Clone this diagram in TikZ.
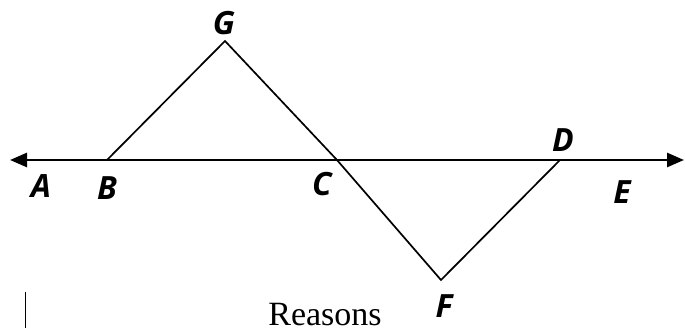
\documentclass[tikz,border=0pt]{standalone}
\usepackage{fontspec}
\setmainfont{Liberation Serif}
\setsansfont{Open Sans}
\usetikzlibrary{arrows.meta}

\begin{document}
\begin{tikzpicture}[
  x=1pt, y=-1pt,
  ptlabel/.style={font=\sffamily\bfseries\itshape\fontsize{32}{32}\selectfont, inner sep=0pt},
  seg/.style={line width=1.7pt, line join=miter},
  ray/.style={line width=2.6pt, {Triangle[length=17pt,width=14pt]}-{Triangle[length=17pt,width=14pt]}}
]
  \useasboundingbox (0,0) rectangle (685,328);

  % points on the figure
  \coordinate (left) at (10,160);
  \coordinate (right) at (684,160);
  \coordinate (B) at (107,160);
  \coordinate (G) at (225,41);
  \coordinate (C) at (337,160);
  \coordinate (F) at (441,280);
  \coordinate (D) at (560,160);

  \draw[ray] (left) -- (right);
  \draw[seg] (B) -- (G) -- (C) -- (F) -- (D);

  % labels
  \node[ptlabel] (la) at (41,186) {A};
  \node[ptlabel] (lb) at (107,188) {B};
  \node[ptlabel] (lg) at (224,23) {G};
  \node[ptlabel] (lc) at (322,184) {C};
  \node[ptlabel] (ld) at (563,140) {D};
  \node[ptlabel] (le) at (622,192) {E};
  \node[ptlabel] (lf) at (444,306) {F};

  % start of the table below
  \node[font=\fontsize{34}{34}\selectfont, anchor=base, inner sep=0pt] (reasons) at (325,326) {Reasons};
  \coordinate (bartop) at (25,292);
  \coordinate (barbot) at (25,328);
  \draw[line width=0.8pt] (bartop) -- (barbot);
\end{tikzpicture}
\end{document}
